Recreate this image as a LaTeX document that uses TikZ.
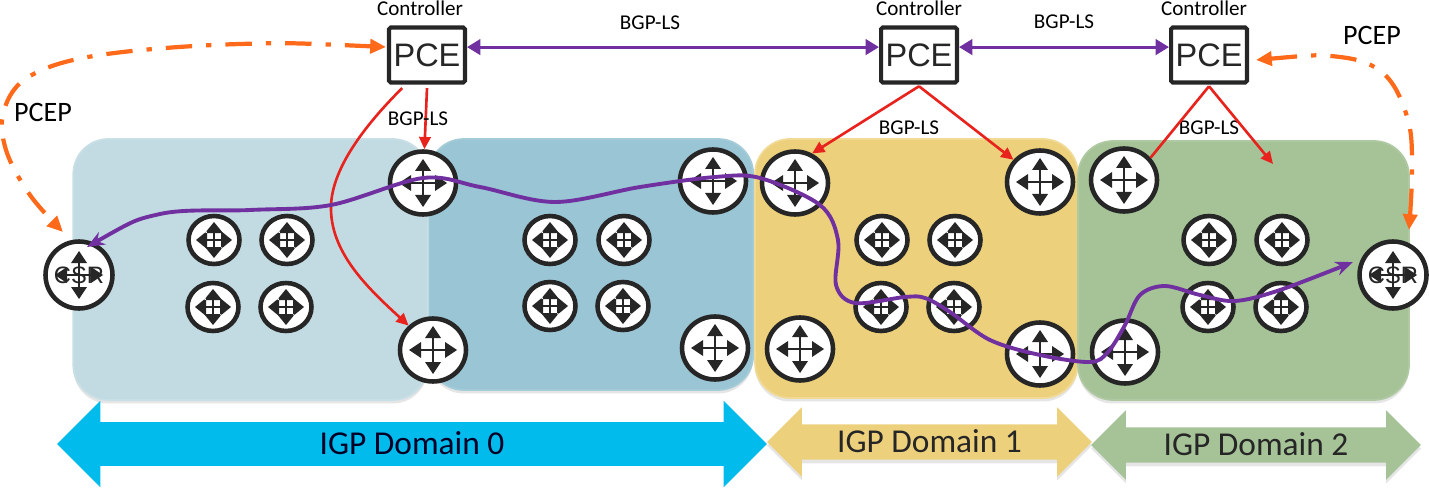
\documentclass[tikz,border=0pt]{standalone}
\usepackage{fontspec}
\setmainfont{Carlito}
\newfontfamily\pcefont{Liberation Sans}
\usetikzlibrary{arrows.meta,shapes.geometric,shapes.arrows,shadows}
\definecolor{PaleBlue}{RGB}{194,219,226}
\definecolor{DeepBlue}{RGB}{154,197,212}
\definecolor{SoftYellow}{RGB}{237,208,124}
\definecolor{SoftMoss}{RGB}{166,195,152}
\definecolor{ArrowBlue}{RGB}{0,187,235}
\definecolor{IconDark}{RGB}{38,38,38}
\definecolor{PathPurple}{RGB}{112,48,160}
\definecolor{LinkRed}{RGB}{232,35,30}
\definecolor{PcepOrange}{RGB}{255,106,26}
\tikzset{
  softshadow/.style={drop shadow={shadow xshift=0pt,shadow yshift=-2pt,opacity=.1,fill=black}},
  domainbox/.style={rounded corners=0.7cm,softshadow,line width=1pt},
  bigrouter/.style={ellipse,draw=IconDark,fill=white,line width=2.6pt,inner sep=0pt,
    minimum width=1.32cm,minimum height=1.26cm,
    path picture={\begin{scope}[shift={(path picture bounding box.center)}]
      \draw[IconDark,line width=1.2pt] (-16,0) -- (16,0) (0,-16) -- (0,16);
      \fill[IconDark] (24,0) -- (12,-8) -- (12,8) -- cycle (-24,0) -- (-12,-8) -- (-12,8) -- cycle
        (0,24) -- (-8,12) -- (8,12) -- cycle (0,-24) -- (-8,-12) -- (8,-12) -- cycle;
    \end{scope}}},
  smallrouter/.style={ellipse,draw=IconDark,fill=white,line width=2.6pt,inner sep=0pt,
    minimum width=1.02cm,minimum height=0.96cm,
    path picture={\begin{scope}[shift={(path picture bounding box.center)}]
      \draw[IconDark,line width=0.9pt] (-7,0) -- (7,0) (0,-7) -- (0,7);
      \fill[IconDark] (18,0) -- (7,-9) -- (7,9) -- cycle (-18,0) -- (-7,-9) -- (-7,9) -- cycle
        (0,18) -- (-9,7) -- (9,7) -- cycle (0,-18) -- (-9,-7) -- (9,-7) -- cycle;
    \end{scope}}},
  csrrouter/.style={bigrouter,minimum width=1.34cm,minimum height=1.34cm,
    label={[font=\pcefont\fontsize{13.5}{13.5}\selectfont,text=IconDark,inner sep=0pt]center:CSR}},
  pcebox/.style={draw=IconDark,fill=white,line width=2.3pt,rounded corners=1pt,inner sep=0pt,
    minimum width=1.52cm,minimum height=1.1cm,font=\pcefont\fontsize{18.5}{18.5}\selectfont,text=IconDark},
  domarrow/.style={double arrow,double arrow tip angle=90,double arrow head indent=0pt,
    inner xsep=0pt,text height=15pt,text depth=3pt,font=\fontsize{19}{19}\selectfont,text=black!85},
  lab/.style={font=\fontsize{12}{12}\selectfont,inner sep=0pt},
  biglab/.style={font=\fontsize{16}{16}\selectfont,inner sep=0pt},
  bgplink/.style={Triangle-Triangle,line width=1.7pt,PathPurple},
  redlink/.style={-{Triangle[length=7pt,width=6.5pt]},line width=1.5pt,LinkRed},
  pathline/.style={{Stealth[length=10pt,width=8pt]}-{Stealth[length=10pt,width=8pt]},line width=2.2pt,PathPurple},
  pcep/.style={{Triangle[length=9pt,width=8pt]}-{Triangle[length=9pt,width=8pt]},line width=2.4pt,PcepOrange,
    dash pattern=on 15pt off 8pt on 3pt off 8pt}
}
\begin{document}
\begin{tikzpicture}[x=0.02cm,y=-0.02cm]
  \useasboundingbox (0,0) rectangle (1429,493);
  % domains
  \node[domainbox,fill=DeepBlue,draw=DeepBlue!90!white,minimum width=6.49cm,minimum height=5.02cm] (dom0b) at (591,264.5) {};
  \node[domainbox,fill=PaleBlue,draw=PaleBlue!90!white,minimum width=7.09cm,minimum height=5.22cm] (dom0a) at (250.5,269.5) {};
  \node[domainbox,fill=SoftYellow,draw=SoftYellow!80!white,minimum width=6.46cm,minimum height=5.18cm] (dom1) at (916.5,268.5) {};
  \node[domainbox,fill=SoftMoss,draw=SoftMoss!90!white,minimum width=6.62cm,minimum height=5.18cm] (dom2) at (1243.5,270.5) {};
  % extent arrows
  \node[domarrow,fill=ArrowBlue,text=black!75!blue!60!black,inner ysep=3.2pt,minimum height=14.2cm,double arrow head extend=0.43cm] (arr0) at (412,444) {IGP Domain 0};
  \node[domarrow,softshadow,fill=SoftYellow,inner ysep=0.9pt,minimum height=6.5cm,double arrow head extend=0.34cm] (arr1) at (929.5,442) {IGP Domain 1};
  \node[domarrow,softshadow,fill=SoftMoss,inner ysep=0.9pt,minimum height=6.6cm,double arrow head extend=0.34cm] (arr2) at (1256,445) {IGP Domain 2};
  % routers
  \foreach \name/\x/\y in {r0/423/183,r1/433/350,r2/713/181,r3/715/348,r4/795/183,r5/1040/182,
    r6/800/349,r7/1040/354,r8/1124/180,r9/1125/352}
    \node[bigrouter] (\name) at (\x,\y) {};
  \foreach \name/\x/\y in {s0/214/240,s1/287/240,s2/213/307,s3/286/307,s4/550/240,s5/624/240,
    s6/550/306,s7/623/306,s8/882/240,s9/955/240,s10/881/307,s11/954/307,
    s12/1209/240,s13/1282/240,s14/1208/307,s15/1281/307}
    \node[smallrouter] (\name) at (\x,\y) {};
  \node[csrrouter] (csr0) at (79,275) {};
  \node[csrrouter] (csr1) at (1393,275) {};
  % controllers
  \node[pcebox] (pce0) at (427,55) {PCE};
  \node[pcebox] (pce1) at (919,55) {PCE};
  \node[pcebox] (pce2) at (1209,55) {PCE};
  \node[lab] (ctl0) at (420,8) {Controller};
  \node[lab] (ctl1) at (919,8) {Controller};
  \node[lab] (ctl2) at (1204,8) {Controller};
  \node[lab] (ls0) at (650,23) {BGP-LS};
  \node[lab] (ls1) at (1064,22) {BGP-LS};
  \node[lab] (ls3) at (909,128) {BGP-LS};
  \node[lab] (ls4) at (1209,128) {BGP-LS};
  \node[biglab] (pcepl) at (43,112) {PCEP};
  \node[biglab] (pcepr) at (1372,35) {PCEP};
  % links
  \draw[bgplink] ([yshift=4.5pt]pce0.east) -- ([yshift=4.5pt]pce1.west);
  \draw[bgplink] ([yshift=4.5pt]pce1.east) -- ([yshift=4.5pt]pce2.west);
  \coordinate (free) at (1273,164);
  \draw[redlink] ([yshift=-2pt]pce0.south) -- (r0);
  \draw[redlink] ([yshift=-2pt]pce0.-130) .. controls (350,140) and (330,180) .. (331,210)
    .. controls (332,255) and (370,290) .. (r1.135);
  \draw[redlink] ([yshift=-1pt]pce1.south) -- (r4.60);
  \draw[redlink] ([yshift=-1pt]pce1.south) -- (r5.140);
  \draw[LinkRed,line width=1.5pt] ([yshift=-1pt]pce2.south) -- (r8.40);
  \draw[redlink] ([yshift=-1pt]pce2.south) -- (free);
  \node[lab] (ls2) at (418,119) {BGP-LS};
  % pcep
  \coordinate (pcepa) at (386,47);
  \coordinate (pcepb) at (63,232);
  \coordinate (pcepc) at (1256,60);
  \coordinate (pcepd) at (1409,230);
  \draw[pcep] plot[smooth,tension=0.6] coordinates {(pcepa) (240,44) (100,55) (30,76) (4,110) (6,150) (30,195) (pcepb)};
  \draw[pcep] plot[smooth,tension=0.6] coordinates {(pcepc) (1340,57) (1385,75) (1408,120) (1412,170) (pcepd)};
  % lsp
  \coordinate (lspa) at (87,247);
  \coordinate (lspb) at (1353,262);
  \draw[pathline] plot[smooth,tension=0.55] coordinates {(lspa) (160,214) (250,210) (331,205) (423,178)
    (480,187) (555,202) (640,187) (715,177) (760,178) (820,205) (838,240) (836,285) (855,303)
    (905,297) (925,298) (950,312) (990,340) (1040,355) (1090,362) (1108,352) (1125,325) (1140,295)
    (1165,286) (1200,295) (1235,301) (1280,290) (lspb)};
\end{tikzpicture}
\end{document}
